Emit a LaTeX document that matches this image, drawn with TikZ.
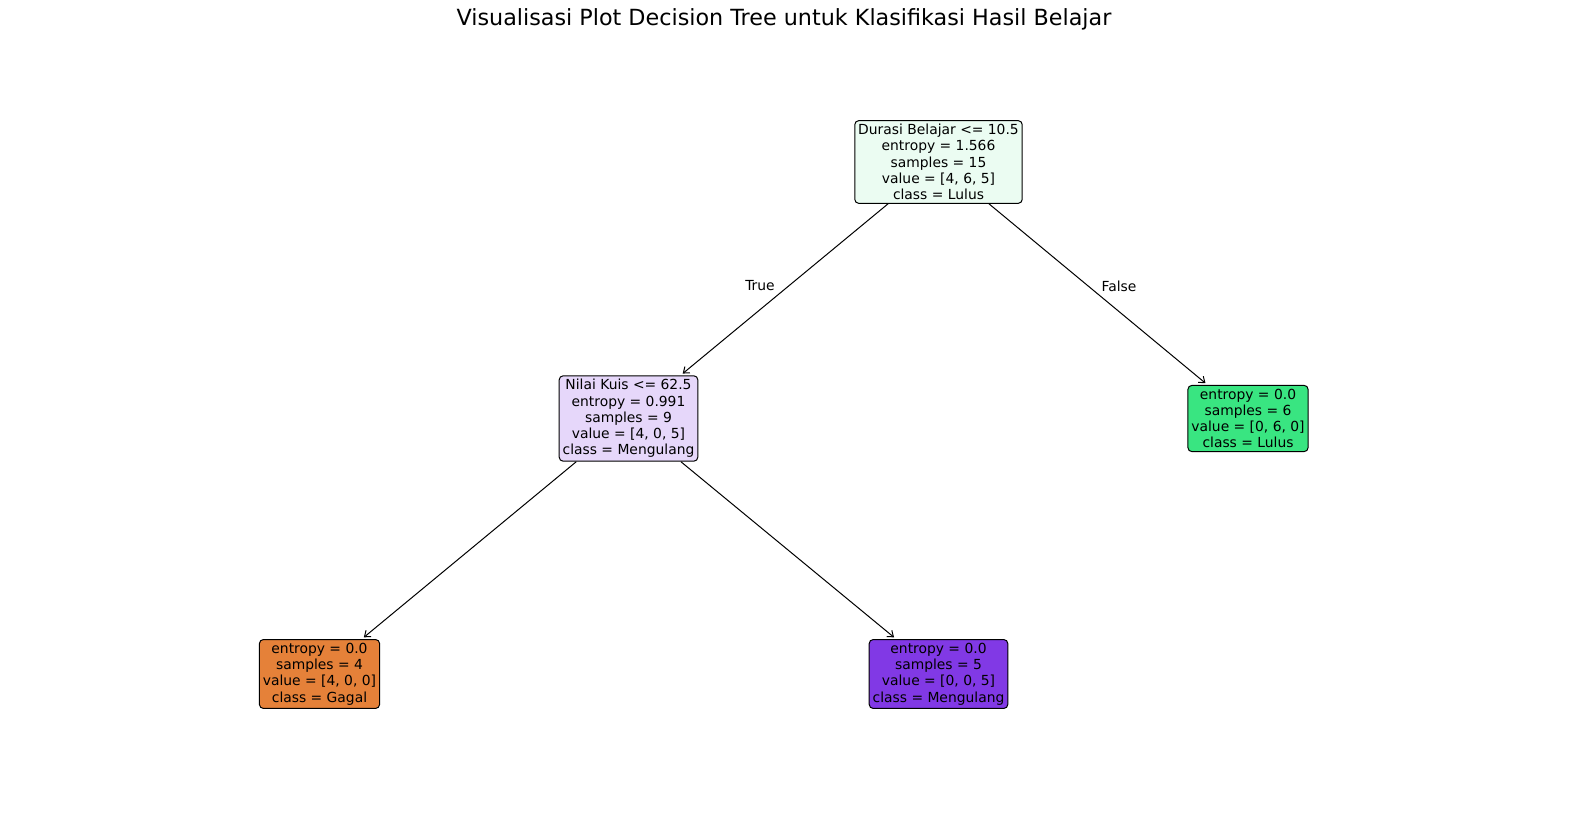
\documentclass[tikz,border=0pt]{standalone}
\usepackage{fontspec}
\setmainfont{DejaVu Sans}
\usetikzlibrary{arrows.meta}
\definecolor{rootc}{HTML}{EBFCF2}
\definecolor{midc}{HTML}{E6D7FA}
\definecolor{greenc}{HTML}{39E581}
\definecolor{orangec}{HTML}{E58139}
\definecolor{purplec}{HTML}{8139E5}
\tikzset{
  treenode/.style={draw=black, line width=0.75pt, rounded corners=3pt, align=center,
    inner xsep=2.6pt, inner ysep=2.6pt, font=\fontsize{10.4pt}{12.2pt}\selectfont, text=black},
  edge/.style={line width=0.75pt, -{Straight Barb[length=4pt,width=6pt]}, shorten >=2pt},
  elabel/.style={font=\fontsize{10.4pt}{12.2pt}\selectfont}
}
\begin{document}
\begin{tikzpicture}[x=0.75pt,y=-0.75pt]
\useasboundingbox (0,0) rectangle (1570,814);
\node[font=\fontsize{16.7pt}{20pt}\selectfont] (title) at (784,19) {Visualisasi Plot Decision Tree untuk Klasifikasi Hasil Belajar};
\node[treenode, fill=rootc] (root) at (938.5,162) {Durasi Belajar <= 10.5\\entropy = 1.566\\samples = 15\\value = [4, 6, 5]\\class = Lulus};
\node[treenode, fill=midc] (mid) at (628.5,418.5) {Nilai Kuis <= 62.5\\entropy = 0.991\\samples = 9\\value = [4, 0, 5]\\class = Mengulang};
\node[treenode, fill=greenc] (right) at (1248,418.5) {entropy = 0.0\\samples = 6\\value = [0, 6, 0]\\class = Lulus};
\node[treenode, fill=orangec] (ll) at (319.5,674) {entropy = 0.0\\samples = 4\\value = [4, 0, 0]\\class = Gagal};
\node[treenode, fill=purplec] (lr) at (938.5,674) {entropy = 0.0\\samples = 5\\value = [0, 0, 5]\\class = Mengulang};
\draw[edge] (root) -- (mid);
\draw[edge] (root) -- (right);
\draw[edge] (mid) -- (ll);
\draw[edge] (mid) -- (lr);
\node[elabel] (truelab) at (760,286) {True};
\node[elabel] (falselab) at (1119,286) {False};
\end{tikzpicture}
\end{document}
